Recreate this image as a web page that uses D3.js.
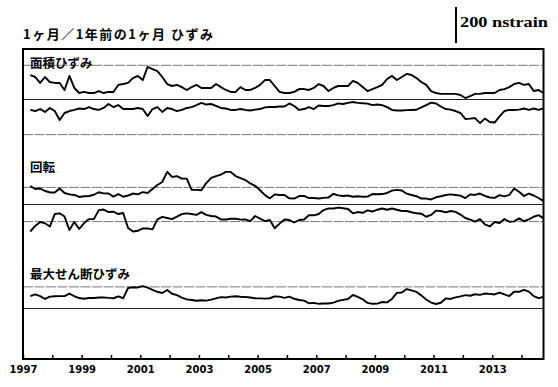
<!DOCTYPE html>
<html>
<head>
<meta charset="utf-8">
<script src="https://cdn.jsdelivr.net/npm/d3@7"></script>
<style>
  html, body { margin: 0; padding: 0; background: #fff; }
  svg { display: block; }
</style>
</head>
<body>
<svg id="chart" width="558" height="387"></svg>
<script>
// Strain time series, nstrain, sampled every two months from 1997.25
const startYear = 1997.25;
const stepYears = 1 / 6;

const areaUpper = [136,125,92,125,97,92,92,53,131,64,
  36,42,36,36,47,36,42,42,81,86,
  92,119,131,108,181,169,158,125,86,75,
  81,69,53,69,81,64,64,64,86,69,
  53,42,42,69,53,53,64,81,108,108,
  75,42,36,36,42,58,58,53,64,86,
  75,47,64,75,75,75,103,92,69,47,
  58,69,81,114,131,108,125,142,136,119,
  97,81,47,36,31,31,31,31,25,8,
  19,31,31,36,36,36,53,58,69,86,
  92,81,86,47,53,36];

const areaLower = [-58,-64,-53,-69,-47,-64,-114,-75,-64,-58,
  -50,-53,-42,-53,-58,-47,-25,-42,-31,-53,
  -53,-53,-47,-53,-92,-53,-42,-69,-47,-53,
  -64,-58,-47,-42,-31,-19,-28,-25,-36,-47,
  -50,-58,-58,-53,-58,-61,-56,-53,-44,-42,
  -42,-39,-39,-22,-36,-58,-53,-42,-53,-33,
  -36,-36,-31,-22,-25,-19,-14,-19,-21,-23,
  -31,-28,-31,-42,-58,-61,-61,-59,-58,-57,
  -44,-31,-17,-22,-39,-53,-56,-64,-75,-108,
  -106,-103,-131,-106,-125,-128,-94,-64,-58,-58,
  -56,-50,-58,-50,-58,-49];

const rotUpper = [102,86,89,75,67,67,89,64,56,53,
  42,46,47,54,68,62,61,44,58,43,
  50,61,56,69,64,86,108,125,181,153,
  158,144,144,81,81,79,119,148,158,166,
  181,181,158,146,136,117,104,79,53,34,
  56,53,53,34,33,47,48,36,36,33,
  37,39,59,51,47,50,43,46,43,44,
  58,57,58,64,77,81,78,60,53,46,
  33,33,28,40,46,53,56,53,49,36,
  56,53,61,48,39,37,52,45,53,89,
  71,47,61,50,36,19];

const rotLower = [-150,-119,-97,-104,-122,-53,-49,-67,-142,-97,
  -136,-103,-81,-81,-31,-28,-42,-40,-53,-47,
  -131,-150,-146,-133,-133,-138,-83,-69,-75,-81,
  -67,-53,-49,-53,-58,-42,-58,-64,-67,-83,
  -83,-79,-79,-84,-83,-92,-64,-78,-92,-86,
  -132,-106,-83,-86,-100,-86,-83,-60,-60,-53,
  -31,-22,-22,-17,-21,-25,-49,-42,-46,-33,
  -39,-29,-22,-29,-22,-29,-36,-36,-43,-49,
  -51,-68,-58,-34,-36,-44,-36,-41,-56,-75,
  -84,-95,-81,-111,-122,-97,-103,-81,-96,-94,
  -77,-93,-83,-68,-59,-77];

const shearMax = [69,78,69,53,66,68,69,69,83,68,
  58,54,58,58,61,62,59,57,67,57,
  114,118,117,124,116,104,93,86,103,82,
  74,61,51,47,43,46,44,49,56,63,
  61,66,68,65,64,61,57,56,55,57,
  67,66,59,66,54,47,44,29,31,26,
  28,28,33,42,48,53,75,64,51,31,
  26,27,36,34,53,87,89,108,101,92,
  73,50,33,25,32,56,53,62,67,74,
  71,79,76,83,81,78,88,78,69,93,
  93,104,94,69,58,64];

// Panel titles and their reference levels (nstrain)
const panelNames = ["面積ひずみ", "回転", "最大せん断ひずみ"];
const areaRefs = [190, -195];
const rotRefs = [95, -95];
const shearRefs = [120];

const tickYears = d3.range(1997, 2015);
const scaleValue = 200;
const scaleUnit = "nstrain";
const titleText = "1ヶ月／1年前の1ヶ月 ひずみ";

// ---- drawing ----
const svg = d3.select("#chart");
const box = { left: 23, right: 543.5, top: 49, bottom: 359 };
const zeroY = [99.5, 204.5, 308.5];
const cjk = "'Noto Sans CJK JP', 'Noto Sans', sans-serif";

const x = d3.scaleLinear().domain([1997, 2014.75]).range([box.left, box.right]);
// vertical scale: 200 nstrain spans 36 px
const yFor = z => d3.scaleLinear().domain([0, scaleValue]).range([z, z - 36]);

const times = areaUpper.map((_, i) => startYear + i * stepYears);

const panels = [
  { name: panelNames[0], series: [areaUpper, areaLower], refs: areaRefs, labelY: 67.5 },
  { name: panelNames[1], series: [rotUpper, rotLower], refs: rotRefs, labelY: 171.5 },
  { name: panelNames[2], series: [shearMax], refs: shearRefs, labelY: 279 }
];

panels.forEach((p, k) => {
  const y = yFor(zeroY[k]);
  const g = svg.append("g");
  // reference levels
  g.selectAll("line.ref").data(p.refs).join("line")
    .attr("x1", box.left).attr("x2", box.right)
    .attr("y1", d => y(d)).attr("y2", d => y(d))
    .attr("stroke", "#555").attr("stroke-width", 0.8)
    .attr("stroke-dasharray", "10,1.5");
  // zero line
  g.append("line")
    .attr("x1", box.left).attr("x2", box.right)
    .attr("y1", y(0)).attr("y2", y(0))
    .attr("stroke", "#222").attr("stroke-width", 1);
  // label
  g.append("text")
    .attr("x", 30).attr("y", p.labelY)
    .attr("font-family", cjk).attr("font-weight", 700).attr("font-size", 12.5)
    .attr("fill", "#000")
    .text(p.name);
  // series
  const line = d3.line().x((d, i) => x(times[i])).y(d => y(d)).curve(d3.curveLinear);
  g.selectAll("path.s").data(p.series).join("path")
    .attr("d", d => line(d))
    .attr("fill", "none").attr("stroke", "#000")
    .attr("stroke-width", 1.9).attr("stroke-linejoin", "round");
});

// frame
svg.append("rect")
  .attr("x", box.left).attr("y", box.top)
  .attr("width", box.right - box.left).attr("height", box.bottom - box.top)
  .attr("fill", "none").attr("stroke", "#000").attr("stroke-width", 2);

// time axis
const axis = d3.axisBottom(x)
  .tickValues(tickYears)
  .tickSizeInner(-4).tickSizeOuter(0).tickPadding(7)
  .tickFormat(d => (d % 2 === 1 ? String(d) : ""));
const ax = svg.append("g").attr("transform", `translate(0,${box.bottom})`).call(axis);
ax.select(".domain").remove();
ax.selectAll(".tick line").attr("stroke", "#000").attr("stroke-width", 1.5);
ax.selectAll(".tick text")
  .attr("font-family", "'DejaVu Sans', sans-serif").attr("font-weight", 700)
  .attr("font-size", 10).attr("fill", "#000");

// title
svg.append("text")
  .attr("x", 23).attr("y", 39)
  .attr("font-family", cjk).attr("font-weight", 700).attr("font-size", 13)
  .attr("fill", "#000")
  .attr("textLength", 190).attr("lengthAdjust", "spacing")
  .text(titleText);

// scale bar
const sb = yFor(43);
svg.append("line")
  .attr("x1", 456).attr("x2", 456)
  .attr("y1", sb(0)).attr("y2", sb(scaleValue))
  .attr("stroke", "#000").attr("stroke-width", 2);
svg.append("text")
  .attr("x", 460).attr("y", 26.5)
  .attr("font-family", "'Liberation Serif', 'DejaVu Serif', serif").attr("font-weight", 700)
  .attr("font-size", 14.5).attr("fill", "#000")
  .attr("textLength", 88).attr("lengthAdjust", "spacingAndGlyphs")
  .text(`${scaleValue} ${scaleUnit}`);
</script>
</body>
</html>
